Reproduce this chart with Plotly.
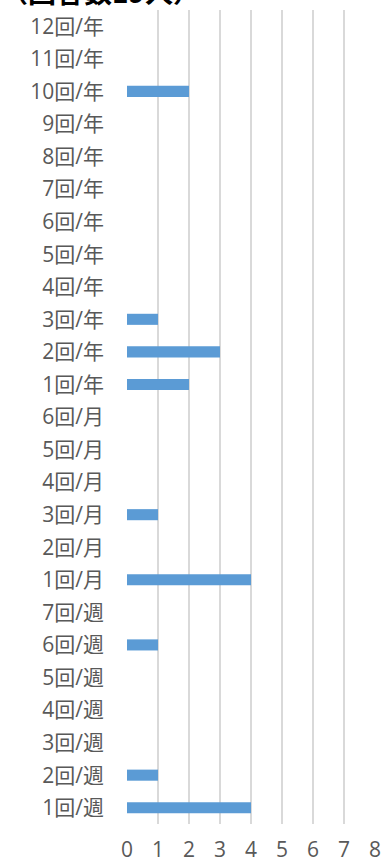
import plotly.graph_objects as go

categories = ["1回/週", "2回/週", "3回/週", "4回/週", "5回/週", "6回/週", "7回/週",
              "1回/月", "2回/月", "3回/月", "4回/月", "5回/月", "6回/月",
              "1回/年", "2回/年", "3回/年", "4回/年", "5回/年", "6回/年", "7回/年",
              "8回/年", "9回/年", "10回/年", "11回/年", "12回/年"]
values = [4, 1, 0, 0, 0, 1, 0,
          4, 0, 1, 0, 0, 0,
          2, 3, 1, 0, 0, 0, 0,
          0, 0, 2, 0, 0]
x_ticks = [0, 1, 2, 3, 4, 5, 6, 7, 8]
title_text = "（回答数19人）"

font_family = "Open Sans, Noto Sans CJK JP, sans-serif"
title_family = "Noto Sans CJK JP, sans-serif"

fig = go.Figure(go.Bar(
    y=categories, x=values, orientation="h",
    marker=dict(color="#5B9BD5", line=dict(width=0)),
    width=0.34,
))

fig.update_layout(
    width=385, height=864,
    margin=dict(l=127, r=10, t=10, b=40),
    paper_bgcolor="white", plot_bgcolor="white",
    showlegend=False,
    font=dict(family=font_family, color="#595959", size=21),
    xaxis=dict(range=[0, 8], tickvals=x_ticks, showgrid=True, gridcolor="#D9D9D9",
               gridwidth=2, zeroline=False, showline=False, ticks="",
               automargin=False,
               ticklabelstandoff=11, tickfont=dict(size=21, color="#595959")),
    yaxis=dict(categoryorder="array", categoryarray=categories, showgrid=False,
               zeroline=False, showline=False, ticks="", ticklabelstandoff=22,
               automargin=False,
               range=[-0.5, len(categories) - 0.5],
               tickfont=dict(size=21, color="#595959")),
    annotations=[dict(text=title_text, xref="paper", yref="paper", x=-0.52, y=1.0,
                      xanchor="left", yanchor="bottom", yshift=-3, showarrow=False,
                      font=dict(size=28, color="black", family=title_family, weight="bold"))],
)

fig.write_html("out.html", config={"displayModeBar": False},
               post_script="document.body.style.margin='0';document.body.style.overflow='hidden';")
